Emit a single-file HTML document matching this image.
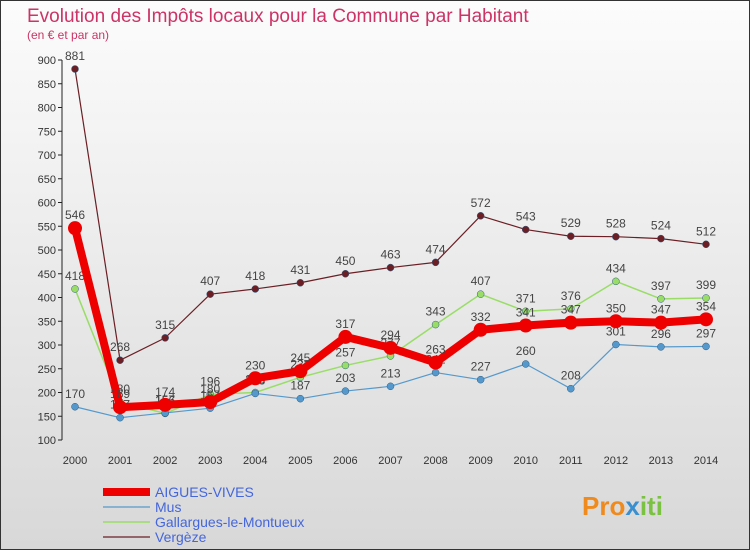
<!DOCTYPE html>
<html><head><meta charset="utf-8"><style>
body{margin:0;width:750px;height:550px;overflow:hidden;font-family:"Liberation Sans",sans-serif}
svg{display:block}
</style></head><body>
<svg id="chart" width="750" height="550">
<defs><linearGradient id="bg" x1="0" y1="0" x2="0" y2="1"><stop offset="0" stop-color="#fcfcfc"/><stop offset="1" stop-color="#d8d8d8"/></linearGradient></defs>
<rect x="0.5" y="0.5" width="749" height="549" fill="url(#bg)" stroke="#333"/>
<text x="27" y="22" font-size="19" fill="#cc3366">Evolution des Impôts locaux pour la Commune par Habitant</text>
<text x="27" y="39" font-size="12" fill="#cc3366">(en € et par an)</text>
<g id="axes"></g><g id="series"></g><g id="legend"></g>
<text x="582" y="515" font-size="26" font-weight="bold"><tspan fill="#f08a1c">Pro</tspan><tspan fill="#3a8fd0">x</tspan><tspan fill="#7cc242">iti</tspan></text>
</svg>
<script>
const years=[2000,2001,2002,2003,2004,2005,2006,2007,2008,2009,2010,2011,2012,2013,2014];
const yTicks=[100,150,200,250,300,350,400,450,500,550,600,650,700,750,800,850,900];
const aiguesVives=[546,169,174,180,230,245,317,294,263,332,341,347,350,347,354];
const mus=[170,147,157,167,198,187,203,213,242,227,260,208,301,296,297];
const gallargues=[418,180,156,196,200,232,257,277,343,407,371,376,434,397,399];
const vergeze=[881,268,315,407,418,431,450,463,474,572,543,529,528,524,512];
const NS="http://www.w3.org/2000/svg";
const X=i=>75+i*(706-75)/(years.length-1);
const Y=v=>440-(v-100)*0.475;
function mk(t,a,p){const e=document.createElementNS(NS,t);for(const k in a)e.setAttribute(k,a[k]);p.appendChild(e);return e;}
const axes=document.getElementById('axes');
const yAxis=mk('line',{x1:62,y1:Y(900),x2:62,y2:Y(100),stroke:'#222'},axes);


yTicks.forEach(v=>{
 const l=mk('line',{x1:58,y1:Y(v),x2:62,y2:Y(v),stroke:'#222'},axes);
 
 
 const t=mk('text',{x:56,y:Y(v)+4,'font-size':11,'text-anchor':'end',fill:'#333'},axes);
 t.textContent=v;
 
 
});
years.forEach((yr,i)=>{
 const t=mk('text',{x:X(i),y:464,'font-size':11,'text-anchor':'middle',fill:'#333'},axes);
 t.textContent=yr;
 
 
});
const seriesDefs=[
 {name:'vergeze',data:vergeze,color:'#6b1f24',w:1.2,r:3.5,label:'Vergèze'},
 {name:'gallargues',data:gallargues,color:'#99dd66',w:1.5,r:3.5,label:'Gallargues-le-Montueux'},
 {name:'mus',data:mus,color:'#5599cc',w:1.2,r:3.5,label:'Mus'},
 {name:'aigues-vives',data:aiguesVives,color:'#ee0000',w:8,r:7,label:'AIGUES-VIVES'}];
const sg=document.getElementById('series');
seriesDefs.forEach(s=>{
 const g=mk('g',{},sg);
 
 
 const pl=mk('polyline',{points:s.data.map((v,i)=>X(i)+','+Y(v)).join(' '),fill:'none',stroke:s.color,'stroke-width':s.w,'stroke-linejoin':'round'},g);
 
 
 s.data.forEach((v,i)=>{
  const c=mk('circle',{cx:X(i),cy:Y(v),r:s.r,fill:s.color,stroke:s.w>2?'none':'#2a5a80','stroke-width':0.5},g);
  
  
  const t=mk('text',{x:X(i),y:Y(v)-9,'font-size':12,'text-anchor':'middle',fill:'#444'},g);
  t.textContent=v;
  
  
 });
});
const lg=document.getElementById('legend');
[seriesDefs[3],seriesDefs[2],seriesDefs[1],seriesDefs[0]].forEach((s,k)=>{
 const y=492+k*15;
 const l=mk('line',{x1:103,y1:y,x2:150,y2:y,stroke:s.color,'stroke-width':s.w},lg);
 
 
 const t=mk('text',{x:155,y:y+5,'font-size':14,fill:'#4466dd'},lg);
 t.textContent=s.label;
 
 
});
</script>
</body></html>
